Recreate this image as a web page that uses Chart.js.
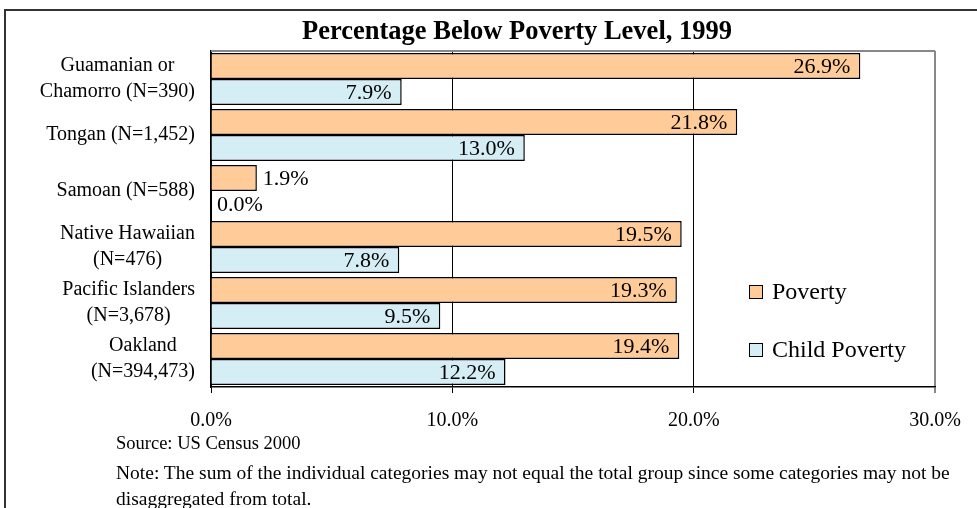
<!DOCTYPE html>
<html>
<head>
<meta charset="utf-8">
<script src="https://cdn.jsdelivr.net/npm/chart.js@4"></script>
<style>
	html, body { margin: 0; padding: 0; background: #fff; }
	body { width: 977px; height: 508px; overflow: hidden; position: relative; font-family: "Liberation Serif", "Times New Roman", serif; }
	#frame { position: absolute; left: 4px; top: 9px; width: 1000px; height: 600px; border-left: 2px solid #333; border-top: 2px solid #333; }
	#wrap { position: absolute; left: 0; top: 0; width: 977px; height: 508px; }
	.txt { position: absolute; white-space: nowrap; color: #000; line-height: 1.15; }
	#title { left: 517px; top: 15px; transform: translateX(-50%); font-weight: bold; font-size: 26.5px; }
	#source { left: 116px; top: 433px; font-size: 18.5px; }
	#note1 { left: 116px; top: 462px; font-size: 19.5px; }
	#note2 { left: 116px; top: 488px; font-size: 19.5px; }
</style>
</head>
<body>
<div id="frame"></div>
<div id="wrap"><canvas id="chart" width="977" height="508"></canvas></div>
<div class="txt" id="title">Percentage Below Poverty Level, 1999</div>
<div class="txt" id="source">Source: US Census 2000</div>
<div class="txt" id="note1">Note: The sum of the individual categories may not equal the total group since some categories may not be</div>
<div class="txt" id="note2">disaggregated from total.</div>
<script>
const groups = [
	['Guamanian or', 'Chamorro (N=390)'],
	['Tongan (N=1,452)'],
	['Samoan (N=588)'],
	['Native Hawaiian', '(N=476)'],
	['Pacific Islanders', '(N=3,678)'],
	['Oakland', '(N=394,473)']
];
const seriesNames = ['Poverty', 'Child Poverty'];
const poverty = [26.9, 21.8, 1.9, 19.5, 19.3, 19.4];
const childPoverty = [7.9, 13.0, 0.0, 7.8, 9.5, 12.2];
const xTicks = [0, 10, 20, 30];

const serif = '"Liberation Serif", "Times New Roman", serif';

// top edge of the plot area, grey like the right edge
const plotFrame = {
	id: 'plotFrame',
	beforeDatasetsDraw(chart) {
		const {ctx, chartArea: a} = chart;
		ctx.save();
		ctx.strokeStyle = '#888';
		ctx.lineWidth = 2;
		ctx.beginPath();
		ctx.moveTo(a.left, a.top);
		ctx.lineTo(a.right, a.top);
		ctx.stroke();
		ctx.restore();
	}
};

// category labels: block right-aligned to the axis, lines centred within it
const groupLabels = {
	id: 'groupLabels',
	afterDraw(chart) {
		const {ctx} = chart;
		const y = chart.scales.y;
		const right = y.right - 16;
		const lh = 26;
		ctx.save();
		ctx.font = '20px ' + serif;
		ctx.fillStyle = '#000';
		ctx.textAlign = 'center';
		ctx.textBaseline = 'middle';
		chart.data.labels.forEach((lines, i) => {
			const cy = y.getPixelForTick(i);
			const wide = Math.max(...lines.map(l => ctx.measureText(l).width));
			const cx = right - wide / 2;
			lines.forEach((l, j) => {
				ctx.fillText(l, cx, cy + (j - (lines.length - 1) / 2) * lh);
			});
		});
		ctx.restore();
	}
};

// value labels: inside the bar end, or just past it if the bar is too short
const valueLabels = {
	id: 'valueLabels',
	afterDatasetsDraw(chart) {
		const {ctx} = chart;
		ctx.save();
		ctx.font = '22px ' + serif;
		ctx.fillStyle = '#000';
		ctx.textBaseline = 'middle';
		chart.data.datasets.forEach((ds, di) => {
			chart.getDatasetMeta(di).data.forEach((bar, i) => {
				const text = ds.data[i].toFixed(1) + '%';
				const w = ctx.measureText(text).width;
				const len = bar.x - bar.base;
				if (len > w + 14) {
					ctx.textAlign = 'right';
					ctx.fillText(text, bar.x - 10, bar.y + 1);
				} else {
					ctx.textAlign = 'left';
					ctx.fillText(text, bar.x + 6, bar.y + 1);
				}
			});
		});
		ctx.restore();
	}
};

// legend inside the plot, lower right
const boxLegend = {
	id: 'boxLegend',
	afterDraw(chart) {
		const {ctx} = chart;
		ctx.save();
		ctx.font = '24px ' + serif;
		ctx.textBaseline = 'middle';
		ctx.textAlign = 'left';
		chart.data.datasets.forEach((ds, i) => {
			const y = 292 + i * 58;
			ctx.fillStyle = ds.backgroundColor;
			ctx.fillRect(749, y - 7, 14, 14);
			ctx.strokeStyle = '#000';
			ctx.lineWidth = 1;
			ctx.strokeRect(749.5, y - 6.5, 13, 13);
			ctx.fillStyle = '#000';
			ctx.fillText(ds.label, 772, y + 1);
		});
		ctx.restore();
	}
};

new Chart(document.getElementById('chart'), {
	type: 'bar',
	data: {
		labels: groups,
		datasets: [{
			label: seriesNames[0],
			data: poverty,
			backgroundColor: '#ffcc99',
			borderColor: '#000',
			borderWidth: 1.5
		}, {
			label: seriesNames[1],
			data: childPoverty,
			backgroundColor: '#d5edf4',
			borderColor: '#000',
			borderWidth: 1.5
		}]
	},
	options: {
		indexAxis: 'y',
		responsive: false,
		animation: false,
		categoryPercentage: 0.93,
		barPercentage: 1.0,
		layout: { padding: { left: 0, top: 51, right: 40, bottom: 0 } },
		plugins: {
			legend: { display: false },
			title: { display: false },
			tooltip: { enabled: false }
		},
		scales: {
			x: {
				min: 0,
				max: 30,
				afterBuildTicks: s => { s.ticks = xTicks.map(v => ({ value: v })); },
				afterFit: s => { s.height = 121; },
				grid: {
					color: c => c.tick && c.tick.value === 30 ? '#888' : '#000',
					lineWidth: c => c.tick && c.tick.value === 30 ? 2 : 1,
					tickLength: 6
				},
				border: { display: true, color: '#000', width: 1.5 },
				ticks: {
					color: '#000',
					font: { family: serif, size: 20 },
					padding: 16,
					callback: v => v.toFixed(1) + '%'
				}
			},
			y: {
				afterFit: s => { s.width = 211; },
				grid: { display: false, drawTicks: false },
				border: { display: true, color: '#000', width: 1.5 },
				ticks: { display: false }
			}
		}
	},
	plugins: [plotFrame, groupLabels, valueLabels, boxLegend]
});
</script>
</body>
</html>
